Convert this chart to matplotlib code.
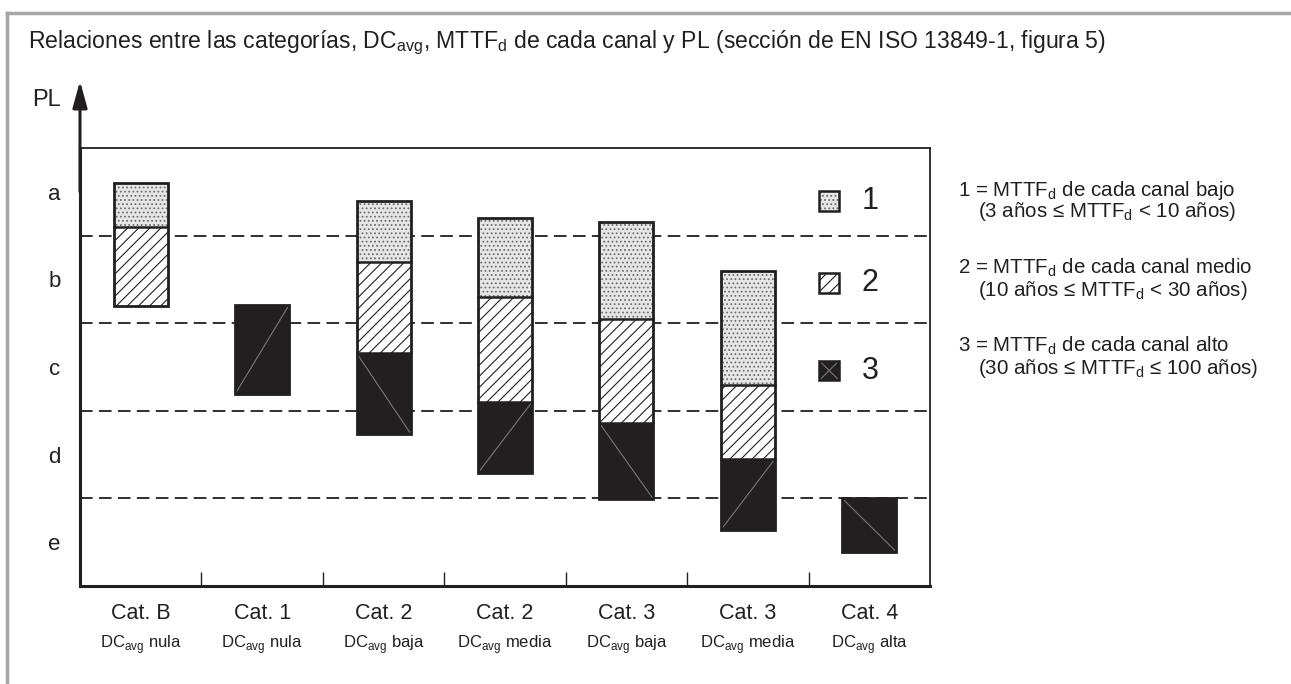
import matplotlib
matplotlib.use("Agg")
import matplotlib.pyplot as plt
from matplotlib.lines import Line2D

# categorias y cobertura de diagnostico
categories = ["Cat. B", "Cat. 1", "Cat. 2", "Cat. 2", "Cat. 3", "Cat. 3", "Cat. 4"]
dc_levels = ["nula", "nula", "baja", "media", "baja", "media", "alta"]
pl_labels = ["e", "d", "c", "b", "a"]

# tramos (inferior, superior) en la escala de PL: e=0..1 ... a=4..5
mttf_low = [(4.10, 4.60), None, (3.70, 4.39), (3.30, 4.20), (3.05, 4.16), (2.29, 3.60), None]
mttf_mid = [(3.20, 4.10), None, (2.66, 3.70), (2.10, 3.30), (1.86, 3.05), (1.45, 2.29), None]
mttf_high = [None, (2.19, 3.21), (1.74, 2.66), (1.29, 2.10), (0.99, 1.86), (0.64, 1.45), (0.39, 1.00)]
diag = [None, "/", "\\", "/", "\\", "/", "\\"]

legend_lines = [
    ("1 = MTTF$_\\mathrm{d}$ de cada canal bajo", "(3 años ≤ MTTF$_\\mathrm{d}$ < 10 años)"),
    ("2 = MTTF$_\\mathrm{d}$ de cada canal medio", "(10 años ≤ MTTF$_\\mathrm{d}$ < 30 años)"),
    ("3 = MTTF$_\\mathrm{d}$ de cada canal alto", "(30 años ≤ MTTF$_\\mathrm{d}$ ≤ 100 años)"),
]

ink = "#231f20"
plt.rcParams["font.family"] = ["Liberation Sans", "DejaVu Sans"]
plt.rcParams["mathtext.fontset"] = "custom"
plt.rcParams["mathtext.rm"] = "Liberation Sans"
plt.rcParams["hatch.linewidth"] = 0.8

fig = plt.figure(figsize=(12.91, 6.84), dpi=100)
ax = fig.add_axes([80 / 1291, 98 / 684, 850 / 1291, 438 / 684])
ax.set_xlim(0, 7)
ax.set_ylim(0, 5)

W = 0.445


def dotted(x, seg, w=W):
    ax.bar(x, seg[1] - seg[0], bottom=seg[0], width=w, color="#e6e6e6",
           hatch="....", edgecolor="#6e6e6e", linewidth=0, zorder=3)


def striped(x, seg, w=W):
    ax.bar(x, seg[1] - seg[0], bottom=seg[0], width=w, color="white",
           hatch="///", edgecolor=ink, linewidth=0, zorder=3)


def dark(x, seg, d, w=W):
    ax.bar(x, seg[1] - seg[0], bottom=seg[0], width=w, color=ink,
           edgecolor="#666", linewidth=0.8, zorder=3)
    x0, x1 = x - w / 2, x + w / 2
    if d in ("/", "x"):
        ax.plot([x0, x1], [seg[0], seg[1]], color="#777", lw=0.8, zorder=4)
    if d in ("\\", "x"):
        ax.plot([x0, x1], [seg[1], seg[0]], color="#777", lw=0.8, zorder=4)


# lineas de separacion de PL
for yy in [1, 2, 3, 4]:
    ax.axhline(yy, color=ink, lw=1.3, linestyle=(0, (7, 3.5)), zorder=1)

for i in range(len(categories)):
    x = i + 0.5
    segs = [s for s in (mttf_low[i], mttf_mid[i], mttf_high[i]) if s]
    if mttf_low[i]:
        dotted(x, mttf_low[i])
    if mttf_mid[i]:
        striped(x, mttf_mid[i])
    if mttf_high[i]:
        dark(x, mttf_high[i], diag[i])
    lo = min(s[0] for s in segs)
    hi = max(s[1] for s in segs)
    ax.bar(x, hi - lo, bottom=lo, width=W, fill=False, edgecolor=ink, linewidth=2, zorder=5)
    for s in segs[1:]:
        ax.plot([x - W / 2, x + W / 2], [s[1], s[1]], color=ink, lw=1.8, zorder=5)
    ax.text(x, -0.31, categories[i], ha="center", va="center", fontsize=15.5, color=ink)
    ax.text(x, -0.67, "DC$_\\mathrm{avg}$ " + dc_levels[i], ha="center", va="center",
            fontsize=12, color=ink)

# leyenda de cuadros
lx, lw_, lh = 6.17, 0.165, 0.228
for yc, kind, num in [(4.39, "low", "1"), (3.46, "mid", "2"), (2.46, "high", "3")]:
    seg = (yc - lh / 2, yc + lh / 2)
    if kind == "low":
        dotted(lx, seg, lw_)
    elif kind == "mid":
        striped(lx, seg, lw_)
    else:
        dark(lx, seg, "x", lw_)
    ax.bar(lx, lh, bottom=seg[0], width=lw_, fill=False, edgecolor=ink, linewidth=1.8, zorder=5)
    ax.text(6.44, yc, num, ha="left", va="center", fontsize=22, color=ink)

# ejes
for side in ["left", "bottom"]:
    ax.spines[side].set_linewidth(2.2)
    ax.spines[side].set_color(ink)
for side in ["top", "right"]:
    ax.spines[side].set_linewidth(1.3)
    ax.spines[side].set_color(ink)

ax.set_yticks([0.5, 1.5, 2.5, 3.5, 4.5])
ax.set_yticklabels(pl_labels, fontsize=16, color=ink)
ax.tick_params(axis="y", length=0, pad=14)
ax.set_xticks([])
ax.set_xticks([1, 2, 3, 4, 5, 6], minor=True)
ax.tick_params(axis="x", which="minor", direction="in", length=10, width=1, color=ink)

ax.annotate("", xy=(0, 1.153), xytext=(0, 0.9), xycoords="axes fraction",
            arrowprops=dict(arrowstyle="-|>,head_length=0.8,head_width=0.22",
                            lw=2.2, color=ink, mutation_scale=20,
                            shrinkA=0, shrinkB=0),
            annotation_clip=False)
fig.text(46 / 1291, 1 - 100 / 684, "PL", ha="center", va="center", fontsize=17, color=ink)

# titulo
fig.text(28 / 1291, 1 - 43 / 684,
         "Relaciones entre las categorías, DC$_\\mathrm{avg}$, MTTF$_\\mathrm{d}$ de cada canal "
         "y PL (sección de EN ISO 13849-1, figura 5)",
         ha="left", va="center", fontsize=16.6, color=ink)

# texto de la leyenda
for k, (l1, l2) in enumerate(legend_lines):
    y1 = [190, 268, 346][k]
    fig.text(958 / 1291, 1 - y1 / 684, l1, ha="left", va="center", fontsize=14.8, color=ink)
    fig.text(978 / 1291, 1 - (y1 + 22) / 684, l2, ha="left", va="center", fontsize=14.8, color=ink)

# marco gris
fig.add_artist(Line2D([7 / 1291, 1], [1 - 13 / 684] * 2, color="#a5a5a5", lw=2.5,
                      transform=fig.transFigure))
fig.add_artist(Line2D([7 / 1291] * 2, [0, 1 - 13 / 684], color="#a5a5a5", lw=2.5,
                      transform=fig.transFigure))

fig.savefig("out.png", dpi=100)
